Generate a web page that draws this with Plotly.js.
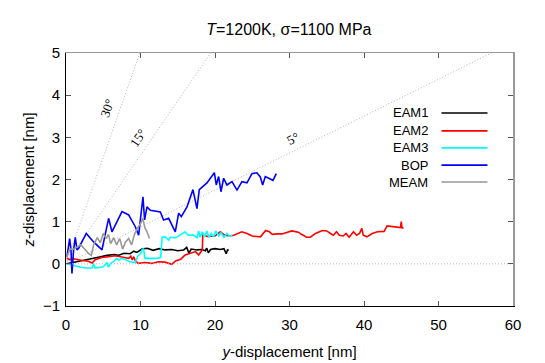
<!DOCTYPE html>
<html>
<head>
<meta charset="utf-8">
<script src="https://cdn.plot.ly/plotly-3.0.1.min.js"></script>
<style>
  body { margin: 0; background: #fff; }
  #chart { width: 545px; height: 363px; }
</style>
</head>
<body>
<div id="chart"></div>
<script>
// trajectories, y- and z-displacement in nm
const eam1Y = [0.1, 1, 2, 3, 3.8, 4.5, 5.5, 6.5, 7.0, 7.8, 8.6, 9.1, 9.5, 10.2, 10.9, 11.7, 12.5, 13.3, 14.2, 15.0, 15.8, 16.2, 16.5, 16.8, 17.6, 18.2, 18.7, 18.9, 19.1, 19.4, 20.0, 20.7, 21.2, 21.5, 21.7, 21.8];
const eam1Z = [0.0, 0.03, 0.06, 0.1, 0.12, 0.16, 0.2, 0.22, 0.2, 0.25, 0.24, 0.3, 0.27, 0.35, 0.37, 0.32, 0.36, 0.33, 0.34, 0.31, 0.33, 0.39, 0.25, 0.35, 0.33, 0.34, 0.31, 0.37, 0.26, 0.34, 0.36, 0.34, 0.36, 0.24, 0.34, 0.31];

const eam2Y = [0.1, 0.5, 1, 1.5, 2.2, 3.0, 3.5, 3.9, 4.8, 5.7, 6.6, 7.3, 8.0, 8.4, 8.7, 8.9, 9.1, 9.3, 9.7, 10.6, 11.5, 12.4, 13.3, 14.2, 14.7, 15.4, 16.0, 16.7, 17.4, 17.8, 18.3, 18.35, 19.0, 20.0, 20.7, 21.3, 22.0, 22.5, 23.6, 24.3, 25.0, 26.1, 26.8, 27.3, 27.7, 28.4, 29.0, 30.3, 31.2, 31.6, 32.3, 32.8, 33.5, 34.4, 35.0, 35.5, 35.9, 36.3, 36.7, 37.2, 37.6, 38.0, 38.6, 39.0, 39.4, 39.7, 39.9, 40.4, 41.1, 41.8, 42.7, 43.1, 44.0, 44.9, 45.0, 45.1, 45.3];
const eam2Z = [0.13, 0.1, 0.12, 0.1, 0.08, 0.06, 0.02, 0.1, 0.15, 0.17, 0.19, 0.17, 0.15, 0.13, 0.18, 0.09, 0.17, 0.07, 0.01, 0.03, 0.01, 0.05, 0.04, -0.01, 0.07, 0.11, 0.21, 0.25, 0.29, 0.21, 0.33, 0.68, 0.65, 0.66, 0.76, 0.68, 0.66, 0.68, 0.76, 0.72, 0.66, 0.64, 0.79, 0.76, 0.7, 0.71, 0.71, 0.78, 0.75, 0.7, 0.63, 0.63, 0.72, 0.79, 0.78, 0.72, 0.68, 0.76, 0.68, 0.66, 0.72, 0.63, 0.76, 0.68, 0.72, 0.84, 0.68, 0.64, 0.72, 0.76, 0.77, 0.9, 0.88, 0.86, 1.0, 0.86, 0.84];

const eam3Y = [0.1, 1, 2, 2.8, 3.5, 3.7, 3.9, 4.6, 5.0, 5.5, 5.7, 6.0, 6.4, 6.8, 7.1, 7.5, 8.2, 8.6, 9.3, 9.6, 10.0, 10.2, 10.4, 10.6, 11.3, 12.2, 12.7, 12.9, 13.3, 13.8, 14.0, 14.7, 15.3, 16.0, 16.4, 17.1, 17.6, 17.8, 18.0, 18.3, 18.6, 18.9, 19.2, 19.5, 19.8, 20.1, 20.5, 20.8, 21.2, 21.6, 22.0, 22.3];
const eam3Z = [0.0, -0.04, -0.08, -0.1, -0.1, 0.0, -0.1, -0.08, -0.07, 0.03, -0.08, 0.01, 0.05, 0.13, 0.09, 0.13, 0.09, 0.05, 0.03, 0.17, 0.25, 0.33, 0.36, 0.13, 0.13, 0.13, 0.15, 0.63, 0.64, 0.56, 0.63, 0.62, 0.68, 0.76, 0.68, 0.68, 0.62, 0.78, 0.63, 0.76, 0.64, 0.78, 0.63, 0.72, 0.64, 0.78, 0.66, 0.74, 0.63, 0.72, 0.65, 0.68];

const bopY = [0.13, 0.35, 0.49, 0.67, 0.8, 1.02, 1.25, 1.47, 1.7, 2.72, 3.71, 4.83, 5.72, 6.17, 7.51, 8.41, 9.3, 9.75, 10.33, 10.55, 10.87, 11.32, 12.66, 13.1, 13.78, 14.67, 15.12, 15.48, 16.24, 17.04, 17.58, 17.89, 18.92, 19.91, 20.17, 20.49, 20.8, 21.16, 21.6, 22.28, 22.95, 23.62, 24.29, 24.96, 25.63, 26.08, 26.4, 26.75, 27.42, 27.78, 28.23];
const bopZ = [0.17, 0.4, 0.6, 0.33, -0.23, 0.33, 0.63, 0.33, 0.37, 0.72, 0.52, 0.33, 1.08, 0.76, 1.24, 1.16, 0.88, 0.68, 1.59, 1.04, 1.35, 1.27, 1.23, 1.04, 1.08, 0.76, 1.2, 1.12, 1.35, 1.76, 1.31, 1.76, 1.92, 2.16, 1.87, 2.07, 1.71, 2.03, 1.87, 1.95, 1.75, 1.95, 1.92, 2.14, 2.16, 2.06, 1.87, 2.07, 2.02, 1.98, 2.14];

const meamY = [0.1, 0.5, 1.0, 1.5, 2.0, 2.5, 3.0, 3.4, 3.7, 4.2, 4.6, 5.0, 5.4, 5.7, 6.0, 6.4, 6.8, 7.2, 7.6, 8.0, 8.4, 8.8, 9.2, 9.6, 10.0, 10.3, 10.6, 10.9, 11.2];
const meamZ = [0.15, 0.35, 0.35, 0.4, 0.45, 0.35, 0.25, 0.2, 0.45, 0.62, 0.5, 0.72, 0.6, 0.7, 0.48, 0.62, 0.45, 0.6, 0.35, 0.52, 0.6, 0.45, 0.7, 0.85, 0.95, 1.08, 0.85, 0.75, 0.6];

// guide lines from the origin, end points at the top of the frame
const guideLabels = ['30°', '15°', '5°'];
const guideEndY = [9.9, 19.4, 57.1];
const guideEndZ = [5, 5, 5];
const guideLabelY = [5.5, 9.6, 30.5];
const guideLabelZ = [3.69, 2.98, 2.98];
const guideLabelAngle = [-70, -56, -27];

const names = ['EAM1', 'EAM2', 'EAM3', 'BOP', 'MEAM'];
const colors = ['#000000', '#ff0000', '#00ffff', '#0000ff', '#999999'];
const seriesY = [eam1Y, eam2Y, eam3Y, bopY, meamY];
const seriesZ = [eam1Z, eam2Z, eam3Z, bopZ, meamZ];

const font = 'Liberation Sans, Arial, Helvetica, sans-serif';
const dotted = {color: '#b4b4b4', width: 1, dash: '1px,2px'};

const traces = [];

// z = 0 reference, also keeps the mirrored frame axes alive
traces.push({
    x: [0, 60], y: [0, 0], xaxis: 'x2', yaxis: 'y2',
    mode: 'lines', line: dotted, hoverinfo: 'skip', showlegend: false
});

guideEndY.forEach((gy, i) => {
    traces.push({
        x: [0, gy], y: [0, guideEndZ[i]],
        mode: 'lines', line: dotted, hoverinfo: 'skip', showlegend: false
    });
});

names.forEach((name, i) => {
    traces.push({
        x: seriesY[i], y: seriesZ[i], name: name,
        mode: 'lines', line: {color: colors[i], width: 1.6},
        showlegend: false
    });
});

const annotations = guideLabels.map((t, i) => ({
    x: guideLabelY[i], y: guideLabelZ[i], text: t, showarrow: false,
    textangle: guideLabelAngle[i],
    font: {family: 'Liberation Serif, Times New Roman, serif', size: 13, color: '#000'}
}));

// hand-made key: label on the left, line sample on the right
const shapes = [];
const keyRows = [0.763, 0.692, 0.625, 0.557, 0.49];
names.forEach((name, i) => {
    annotations.push({
        xref: 'paper', yref: 'paper', x: 0.815, y: keyRows[i],
        xanchor: 'right', yanchor: 'middle', text: name, showarrow: false,
        font: {family: font, size: 13, color: '#000'}
    });
    shapes.push({
        type: 'line', xref: 'paper', yref: 'paper',
        x0: 0.84, x1: 0.943, y0: keyRows[i], y1: keyRows[i],
        line: {color: colors[i], width: 1.6}
    });
});

const layout = {
    width: 545,
    height: 363,
    margin: {l: 66, r: 32, t: 53, b: 57},
    paper_bgcolor: '#fff',
    plot_bgcolor: '#fff',
    font: {family: font, size: 15, color: '#000'},
    title: {
        text: '<i>T</i>=1200K, σ=1100 MPa',
        font: {family: font, size: 16, color: '#000'},
        x: 0.53, xanchor: 'center', y: 0.92, yanchor: 'middle'
    },
    xaxis: {
        range: [0, 60], dtick: 10, tick0: 0,
        showgrid: false, zeroline: false,
        showline: true, linecolor: '#000', linewidth: 1,
        ticks: 'inside', ticklen: 5, tickcolor: '#555',
        ticklabelstandoff: 5,
        tickfont: {family: font, size: 15},
        title: {text: '<i>y</i>-displacement [nm]', font: {family: font, size: 15}, standoff: 14}
    },
    yaxis: {
        range: [-1, 5], dtick: 1, tick0: 0,
        showgrid: false, zeroline: false,
        showline: true, linecolor: '#000', linewidth: 1,
        ticks: 'inside', ticklen: 5, tickcolor: '#555',
        ticklabelstandoff: 2,
        tickfont: {family: font, size: 15},
        title: {text: '<i>z</i>-displacement [nm]', font: {family: font, size: 15}, standoff: 4}
    },
    xaxis2: {
        overlaying: 'x', side: 'top', anchor: 'y2',
        range: [0, 60], dtick: 10, tick0: 0,
        showgrid: false, zeroline: false, showticklabels: false,
        showline: true, linecolor: '#999', linewidth: 1.5,
        ticks: 'inside', ticklen: 5, tickcolor: '#555'
    },
    yaxis2: {
        overlaying: 'y', side: 'right', anchor: 'x2',
        range: [-1, 5], dtick: 1, tick0: 0,
        showgrid: false, zeroline: false, showticklabels: false,
        showline: true, linecolor: '#999', linewidth: 1.5,
        ticks: 'inside', ticklen: 5, tickcolor: '#555'
    },
    annotations: annotations,
    shapes: shapes,
    showlegend: false
};

Plotly.newPlot('chart', traces, layout, {displayModeBar: false, staticPlot: true});
</script>
</body>
</html>
